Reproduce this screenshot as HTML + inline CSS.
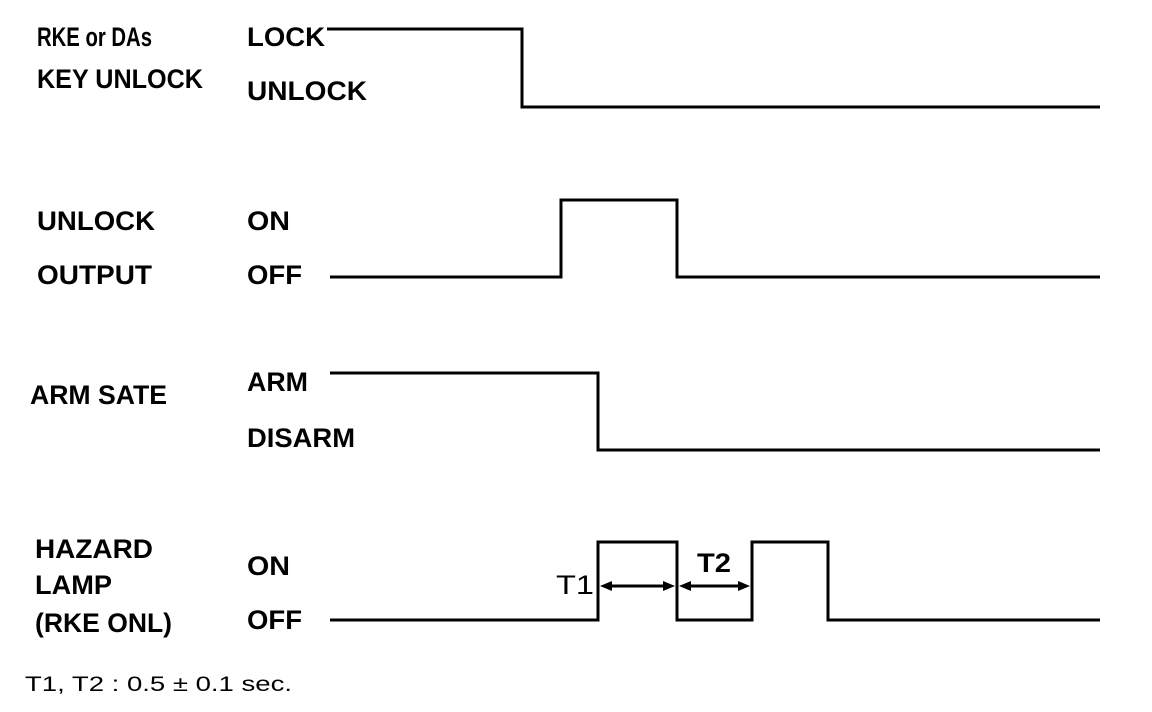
<!DOCTYPE html>
<html><head><style>html,body{margin:0;padding:0;background:#fff}svg{display:block}</style></head>
<body>
<svg width="1152" height="712" viewBox="0 0 1152 712" xmlns="http://www.w3.org/2000/svg">
<g font-family="Liberation Sans, Arial, sans-serif" font-size="27" font-weight="bold" fill="#000" lengthAdjust="spacingAndGlyphs">
<text x="37" y="46" textLength="115" lengthAdjust="spacingAndGlyphs">RKE or DAs</text>
<text x="37" y="88" textLength="166" lengthAdjust="spacingAndGlyphs">KEY UNLOCK</text>
<text x="247" y="46" textLength="78" lengthAdjust="spacingAndGlyphs">LOCK</text>
<text x="247" y="100" textLength="120" lengthAdjust="spacingAndGlyphs">UNLOCK</text>
<text x="37" y="230" textLength="118" lengthAdjust="spacingAndGlyphs">UNLOCK</text>
<text x="37" y="284" textLength="115" lengthAdjust="spacingAndGlyphs">OUTPUT</text>
<text x="247" y="230" textLength="43" lengthAdjust="spacingAndGlyphs">ON</text>
<text x="247" y="284" textLength="55" lengthAdjust="spacingAndGlyphs">OFF</text>
<text x="30" y="404" textLength="137" lengthAdjust="spacingAndGlyphs">ARM SATE</text>
<text x="247" y="391" textLength="61" lengthAdjust="spacingAndGlyphs">ARM</text>
<text x="247" y="447" textLength="108" lengthAdjust="spacingAndGlyphs">DISARM</text>
<text x="35" y="558" textLength="118" lengthAdjust="spacingAndGlyphs">HAZARD</text>
<text x="35" y="594" textLength="77" lengthAdjust="spacingAndGlyphs">LAMP</text>
<text x="35" y="632" textLength="137" lengthAdjust="spacingAndGlyphs">(RKE ONL)</text>
<text x="247" y="575" textLength="43" lengthAdjust="spacingAndGlyphs">ON</text>
<text x="247" y="629" textLength="55" lengthAdjust="spacingAndGlyphs">OFF</text>
<text x="556" y="594" textLength="38" lengthAdjust="spacingAndGlyphs" font-weight="normal">T1</text>
<text x="697" y="572" textLength="34" lengthAdjust="spacingAndGlyphs">T2</text>
<text x="25" y="691" font-size="21" font-weight="normal" textLength="267" lengthAdjust="spacingAndGlyphs">T1, T2 : 0.5 ± 0.1 sec.</text>
</g>
<g fill="none" stroke="#000" stroke-width="3">
<polyline points="327,29 522,29 522,107 1100,107"/>
<polyline points="330,277 561,277 561,200 677,200 677,277 1100,277"/>
<polyline points="330,373 598,373 598,450 1100,450"/>
<polyline points="330,620 598,620 598,542 677,542 677,620 752,620 752,542 828,542 828,620 1100,620"/>
<line x1="606" y1="586" x2="669" y2="586"/>
<line x1="685" y1="586" x2="744" y2="586"/>
</g>
<g fill="#000">
<polygon points="600,586 612,581 612,591"/>
<polygon points="675,586 663,581 663,591"/>
<polygon points="679,586 691,581 691,591"/>
<polygon points="750,586 738,581 738,591"/>
</g>
</svg>
</body></html>
